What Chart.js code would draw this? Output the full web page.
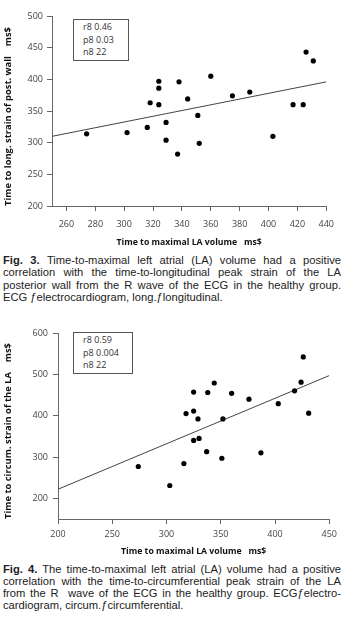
<!DOCTYPE html>
<html>
<head>
<meta charset="utf-8">
<script src="https://cdn.jsdelivr.net/npm/chart.js@4.4.1/dist/chart.umd.min.js"></script>
<style>
  html, body { margin: 0; padding: 0; background: #fff; }
  body { width: 342px; height: 619px; position: relative; overflow: hidden; }
  canvas { position: absolute; left: 0; }
  .stats { position: absolute; border: 1px solid #555; background: #fff; box-sizing: border-box;
           font: 9px "Open Sans", sans-serif; color: #333; line-height: 12.5px; padding: 1px 0 0 9px; }
  .cap { position: absolute; left: 3px; width: 338px; font: 11.2px "Liberation Sans", sans-serif; color: #222; line-height: 12.3px; }
  .cap div { white-space: nowrap; text-align: justify; text-align-last: justify; }
  .cap div.last { text-align-last: left; }
</style>
</head>
<body>

<canvas id="fig3" width="342" height="250" style="top:0"></canvas>
<div class="stats" id="stats3" style="left:73px; top:19px; width:56px; height:42px"></div>
<div class="cap" style="top:254px">
  <div><b>Fig. 3.</b> Time-to-maximal left atrial (LA) volume had a positive</div>
  <div>correlation with the time-to-longitudinal peak strain of the LA</div>
  <div>posterior wall from the R wave of the ECG in the healthy group.</div>
  <div class="last">ECG ƒelectrocardiogram, long.ƒlongitudinal.</div>
</div>

<canvas id="fig4" width="342" height="250" style="top:310px"></canvas>
<div class="stats" id="stats4" style="left:73px; top:332px; width:60px; height:42px"></div>
<div class="cap" style="top:563px; line-height:12px">
  <div><b>Fig. 4.</b> The time-to-maximal left atrial (LA) volume had a positive</div>
  <div>correlation with the time-to-circumferential peak strain of the LA</div>
  <div>from the R&nbsp; wave of the ECG in the healthy group. ECGƒelectro-</div>
  <div class="last">cardiogram, circum.ƒcircumferential.</div>
</div>

<script>
// Fig. 3 - time to max LA volume vs time to longitudinal strain (post. wall)
const xTicks3 = [260, 280, 300, 320, 340, 360, 380, 400, 420, 440];
const yTicks3 = [200, 250, 300, 350, 400, 450, 500];
const laTime3 = [274, 302, 316, 318, 324, 324, 324, 329, 329, 337, 338, 344, 351, 352, 360, 375, 387, 403, 417, 424, 426, 431];
const longStrainTime = [314, 316, 324, 363, 397, 386, 360, 332, 304, 282, 396, 369, 343, 299, 405, 374, 380, 310, 360, 360, 443, 429];
const fitX3 = [250, 440];
const fitY3 = [310, 396];
const stats3 = ['r8 0.46', 'p8 0.03', 'n8 22'];

// Fig. 4 - time to max LA volume vs time to circumferential strain
const xTicks4 = [200, 250, 300, 350, 400, 450];
const yTicks4 = [200, 300, 400, 500, 600];
const laTime4 = [274, 303, 316, 318, 325, 325, 325, 329, 330, 337, 338, 344, 351, 352, 360, 376, 387, 403, 418, 424, 426, 431];
const circStrainTime = [277, 231, 284, 405, 457, 411, 340, 392, 345, 313, 456, 479, 297, 392, 454, 440, 310, 429, 460, 481, 542, 406];
const fitX4 = [200, 450];
const fitY4 = [222, 497];
const stats4 = ['r8 0.59', 'p8 0.004', 'n8 22'];

const axisColor = '#666';
const tickFont = { family: 'Open Sans', size: 9 };
const titleFont = { family: 'Open Sans', size: 8.7, weight: 'bold' };

function scatterChart(id, xs, ys, fitX, fitY, o) {
    const points = xs.map((x, i) => ({ x: x, y: ys[i] }));
    const fit = fitX.map((x, i) => ({ x: x, y: fitY[i] }));
    return new Chart(document.getElementById(id), {
        type: 'scatter',
        data: {
            datasets: [
                { data: points, backgroundColor: '#000', borderColor: '#000', pointRadius: 2.6, pointBorderWidth: 0 },
                { data: fit, showLine: true, borderColor: '#444', borderWidth: 1, pointRadius: 0, fill: false }
            ]
        },
        options: {
            responsive: false,
            animation: false,
            layout: { padding: o.padding },
            plugins: { legend: { display: false }, tooltip: { enabled: false } },
            scales: {
                x: {
                    type: 'linear', min: o.xMin, max: o.xMax,
                    afterBuildTicks: a => { a.ticks = o.xTicks.map(v => ({ value: v })); },
                    afterFit: s => { s.height = o.xHeight; },
                    grid: { drawOnChartArea: false, tickLength: 5, color: axisColor },
                    border: { color: axisColor },
                    ticks: { color: '#444', font: tickFont, padding: o.xTickPad, maxRotation: 0 },
                    title: { display: true, text: 'Time to maximal LA volume   ms$', color: '#111', font: titleFont,
                             padding: { top: 0, bottom: o.xTitlePad } }
                },
                y: {
                    type: 'linear', min: o.yMin, max: o.yMax,
                    afterBuildTicks: a => { a.ticks = o.yTicks.map(v => ({ value: v })); },
                    afterFit: s => { s.width = o.yWidth; },
                    grid: { drawOnChartArea: false, tickLength: 5, color: axisColor },
                    border: { color: axisColor },
                    ticks: { color: '#444', font: tickFont, padding: o.yTickPad },
                    title: { display: true, text: o.yTitle, color: '#111', font: { family: 'Open Sans', size: 9.4, weight: 'bold' },
                             align: 'start', padding: { top: 3, bottom: 0 } }
                }
            }
        }
    });
}

scatterChart('fig3', laTime3, longStrainTime, fitX3, fitY3, {
    xMin: 250, xMax: 440, yMin: 200, yMax: 500, xTicks: xTicks3, yTicks: yTicks3,
    padding: { top: 16, right: 7, left: 0, bottom: 0 },
    xHeight: 44, yWidth: 52, xTickPad: 8, yTickPad: 4, xTitlePad: 2,
    yTitle: 'Time to long. strain of post. wall    ms$'
});

scatterChart('fig4', laTime4, circStrainTime, fitX4, fitY4, {
    xMin: 200, xMax: 450, yMin: 150, yMax: 600, xTicks: xTicks4, yTicks: yTicks4,
    padding: { top: 23, right: 8, left: 0, bottom: 0 },
    xHeight: 41, yWidth: 58, xTickPad: 5, yTickPad: 5, xTitlePad: 3,
    yTitle: 'Time to circum. strain of the LA    ms$'
});

document.getElementById('stats3').innerHTML = stats3.join('<br>');
document.getElementById('stats4').innerHTML = stats4.join('<br>');
</script>
</body>
</html>
